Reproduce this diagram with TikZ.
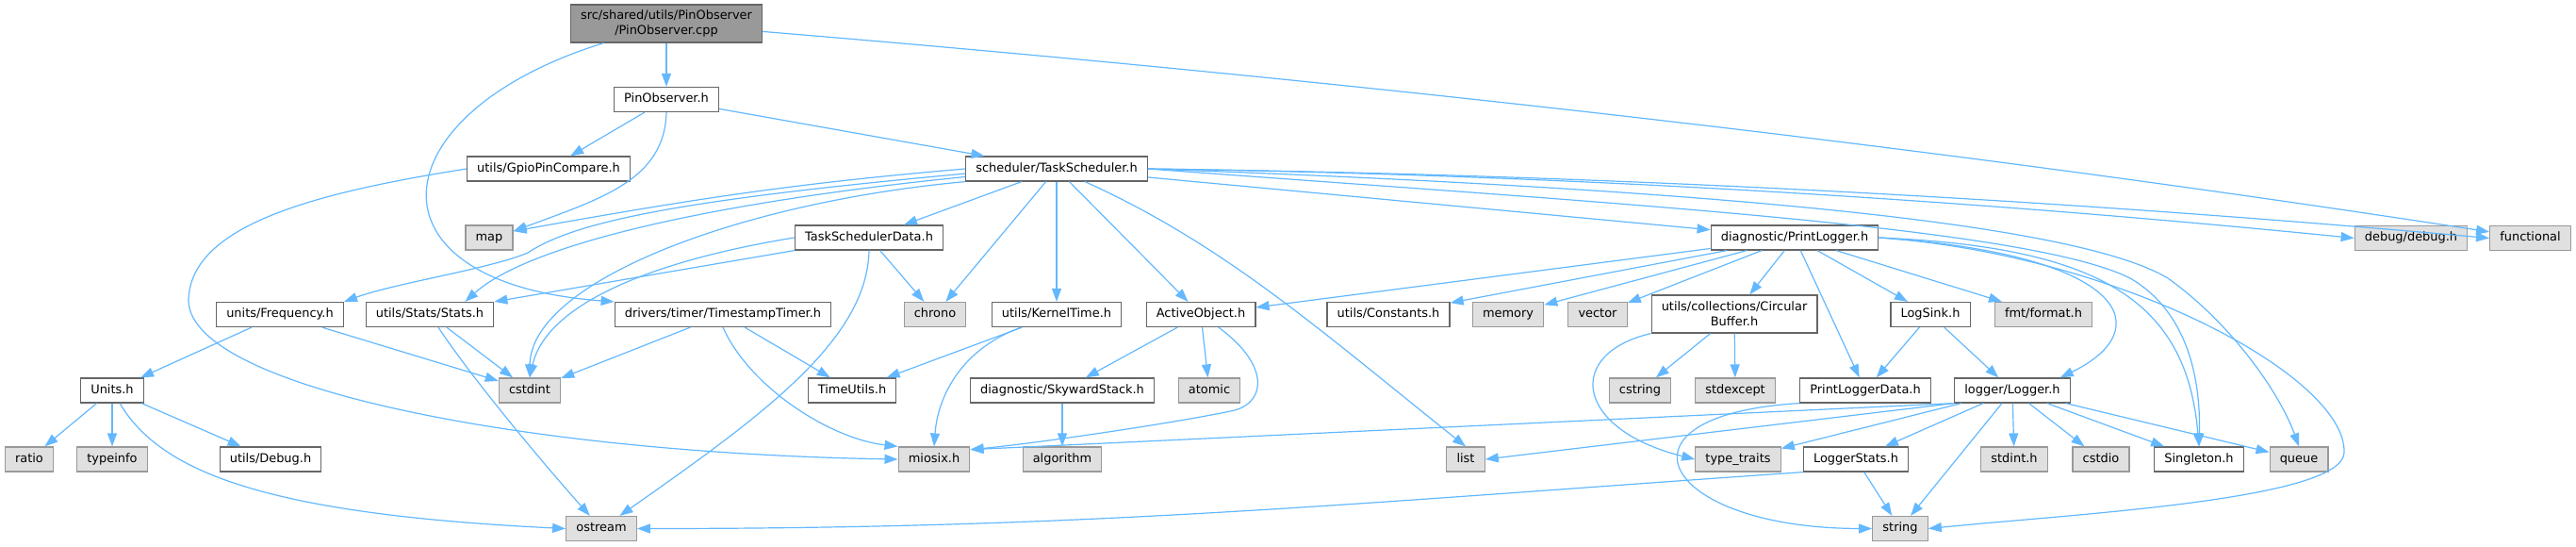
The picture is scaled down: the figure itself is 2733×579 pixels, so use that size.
\documentclass[tikz,border=0pt]{standalone}
\usepackage{fontspec}
\setmainfont{DejaVu Sans}
\usepackage[]{xcolor}
\usetikzlibrary{arrows.meta}

\definecolor{edgeblue}{HTML}{63B8FF}
\definecolor{boxgray}{HTML}{E0E0E0}
\definecolor{sysgray}{HTML}{999999}
\definecolor{linegray}{HTML}{666666}
\definecolor{rootgray}{HTML}{999999}

\begin{document}
\begin{tikzpicture}[
            x=0.75pt, y=-0.75pt,
            base/.style={rectangle, line width=0.9pt, inner xsep=8pt, inner ysep=2pt, font=\fontsize{9.7}{12}\selectfont, align=center},
            header/.style={base, draw=linegray, fill=white, minimum height=19.5pt, text height=7.3pt, text depth=2.3pt},
            sysheader/.style={header, draw=sysgray, fill=boxgray},
            wrapheader/.style={base, draw=linegray, fill=white, minimum height=30pt},
            rootfile/.style={base, draw=linegray, fill=rootgray, minimum height=30pt},
            arrow/.style={-{Triangle[length=10.5pt, width=7.5pt]}, draw=edgeblue, line width=0.9pt}
        ]
            \useasboundingbox (0,0) rectangle (2733,579);

            % rows from top to bottom
            \node[rootfile] (cpp) at (707,25) {src/shared/utils/PinObserver\\/PinObserver.cpp};
            \node[header] (pinh) at (707,105.5) {PinObserver.h};
            \node[header] (gpio) at (582,179) {utils/GpioPinCompare.h};
            \node[header] (sched) at (1121,179) {scheduler/TaskScheduler.h};
            \node[sysheader] (map) at (519,252) {map};
            \node[header] (schedData) at (922,252) {TaskSchedulerData.h};
            \node[header] (plog) at (1904,252) {diagnostic/PrintLogger.h};
            \node[sysheader] (dbg) at (2558,252.5) {debug/debug.h};
            \node[sysheader] (func) at (2684.5,252.5) {functional};

            \node[header] (freq) at (297,333.5) {units/Frequency.h};
            \node[header] (stats) at (456,333.5) {utils/Stats/Stats.h};
            \node[header] (tstamp) at (767,333.5) {drivers/timer/TimestampTimer.h};
            \node[sysheader] (chrono) at (992,333.5) {chrono};
            \node[header] (ktime) at (1121,333.5) {utils/KernelTime.h};
            \node[header] (aobj) at (1274,333.5) {ActiveObject.h};
            \node[header] (consts) at (1473,333.5) {utils/Constants.h};
            \node[sysheader] (memory) at (1600,333.5) {memory};
            \node[sysheader] (vector) at (1695,333.5) {vector};
            \node[wrapheader] (cbuf) at (1840,333) {utils/collections/Circular\\Buffer.h};
            \node[header] (logsink) at (2048,333.5) {LogSink.h};
            \node[sysheader] (fmt) at (2168,333.5) {fmt/format.h};

            \node[header] (units) at (119,414) {Units.h};
            \node[sysheader] (cstdint) at (562,414) {cstdint};
            \node[header] (tutils) at (904,414) {TimeUtils.h};
            \node[header] (sstack) at (1127,414) {diagnostic/SkywardStack.h};
            \node[sysheader] (atomic) at (1283,414) {atomic};
            \node[sysheader] (cstring) at (1740,414) {cstring};
            \node[sysheader] (stdexc) at (1841,414) {stdexcept};
            \node[header] (pldata) at (1979,414) {PrintLoggerData.h};
            \node[header] (logger) at (2135,414) {logger/Logger.h};

            \node[sysheader] (ratio) at (31,487) {ratio};
            \node[sysheader] (typeinfo) at (119,487) {typeinfo};
            \node[header] (udebug) at (287,487) {utils/Debug.h};
            \node[sysheader] (miosix) at (991,487) {miosix.h};
            \node[sysheader] (algo) at (1127,487) {algorithm};
            \node[sysheader] (list) at (1555,487) {list};
            \node[sysheader] (ttraits) at (1844,487) {type\_traits};
            \node[header] (lstats) at (1969,487) {LoggerStats.h};
            \node[sysheader] (stdint) at (2137,487) {stdint.h};
            \node[sysheader] (cstdio) at (2229,487) {cstdio};
            \node[header] (single) at (2333,487) {Singleton.h};
            \node[sysheader] (queue) at (2439,487) {queue};

            \node[sysheader] (ostream) at (638,560.5) {ostream};
            \node[sysheader] (string) at (2016,560.5) {string};

            % includes of the source file
            \draw[arrow] (cpp) -- (pinh);
            \draw[arrow] (cpp) .. controls (1420,84) and (2030,152) .. (func);
            \draw[arrow] (cpp) .. controls (400,120) and (380,300) .. (tstamp.north west);

            \draw[arrow] (pinh) -- (gpio);
            \draw[arrow] (pinh.south) .. controls (705,190) and (640,210) .. (map.15);
            \draw[arrow] (pinh) -- (sched);

            \draw[arrow] (gpio.west) .. controls (330,205) and (200,240) .. (200,320) .. controls (205,410) and (550,480) .. (miosix.west);

            % scheduler/TaskScheduler.h
            \draw[arrow] (sched.west) .. controls (836,195) and (731,212) .. (map.15);
            \draw[arrow] (sched.183) .. controls (720,212) and (610,235) .. (560,268) .. controls (520,285) and (420,300) .. (freq.north east);
            \draw[arrow] (sched.185) .. controls (750,215) and (560,260) .. (stats.20);
            \draw[arrow] (sched.south west) .. controls (780,215) and (563,300) .. (cstdint.north);
            \draw[arrow] (sched) -- (schedData);
            \draw[arrow] (sched) -- (chrono);
            \draw[arrow] (sched) -- (ktime);
            \draw[arrow] (sched) -- (aobj);
            \draw[arrow] (sched) .. controls (1300,260) and (1400,350) .. (list.north);
            \draw[arrow] (sched) -- (plog);
            \draw[arrow] (sched.east) .. controls (1644,185) and (2072,210) .. (dbg.west);
            \draw[arrow] (sched.east) .. controls (1692,185) and (2166,210) .. (func.west);
            \draw[arrow] (sched.east) .. controls (1700,215) and (2150,240) .. (2260,295) .. controls (2320,330) and (2335,400) .. (single.north);
            \draw[arrow] (sched.east) .. controls (1800,200) and (2200,235) .. (2300,295) .. controls (2370,345) and (2420,420) .. (queue.north);

            \draw[arrow] (schedData.south west) -- (stats.north east);
            \draw[arrow] (schedData.west) .. controls (700,275) and (580,320) .. (cstdint.north);
            \draw[arrow] (schedData) -- (chrono);
            \draw[arrow] (schedData.south) .. controls (920,360) and (810,440) .. (ostream.35);

            % diagnostic/PrintLogger.h
            \draw[arrow] (plog) -- (aobj);
            \draw[arrow] (plog) -- (consts);
            \draw[arrow] (plog) -- (memory);
            \draw[arrow] (plog) -- (vector);
            \draw[arrow] (plog) -- (cbuf);
            \draw[arrow] (plog) -- (pldata);
            \draw[arrow] (plog) -- (logsink);
            \draw[arrow] (plog) -- (fmt);
            \draw[arrow] (plog.east) .. controls (2260,270) and (2290,350) .. (logger.15);
            \draw[arrow] (plog.east) .. controls (2230,262) and (2320,320) .. (single.north);
            \draw[arrow] (plog.east) .. controls (2250,270) and (2490,400) .. (2487,480) .. controls (2485,530) and (2200,545) .. (string.east);

            \draw[arrow] (freq) -- (units);
            \draw[arrow] (freq) -- (cstdint);
            \draw[arrow] (stats) -- (cstdint);
            \draw[arrow] (stats) .. controls (500,400) and (575,490) .. (ostream);
            \draw[arrow] (tstamp) -- (cstdint);
            \draw[arrow] (tstamp) -- (tutils);
            \draw[arrow] (tstamp.south) .. controls (795,410) and (880,465) .. (miosix.north west);
            \draw[arrow] (ktime) -- (tutils);
            \draw[arrow] (ktime) .. controls (1020,370) and (995,420) .. (miosix.north);
            \draw[arrow] (aobj) -- (sstack);
            \draw[arrow] (aobj) -- (atomic);
            \draw[arrow] (aobj) .. controls (1345,385) and (1345,425) .. (1310,435) .. controls (1250,448) and (1100,470) .. (miosix.15);
            \draw[arrow] (sstack) -- (algo);

            \draw[arrow] (cbuf) -- (cstring);
            \draw[arrow] (cbuf) -- (stdexc);
            \draw[arrow] (cbuf.south west) .. controls (1660,375) and (1670,455) .. (ttraits.west);
            \draw[arrow] (logsink) -- (pldata);
            \draw[arrow] (logsink) -- (logger);
            \draw[arrow] (pldata.south west) .. controls (1700,440) and (1760,560) .. (string.west);

            % logger/Logger.h
            \draw[arrow] (logger.south west) -- (miosix.15);
            \draw[arrow] (logger.south west) -- (list.east);
            \draw[arrow] (logger) -- (ttraits);
            \draw[arrow] (logger) -- (lstats);
            \draw[arrow] (logger) -- (string);
            \draw[arrow] (logger) -- (stdint);
            \draw[arrow] (logger) -- (cstdio);
            \draw[arrow] (logger) -- (single);
            \draw[arrow] (logger) -- (queue);
            \draw[arrow] (lstats) -- (string);
            \draw[arrow] (lstats.south west) .. controls (1430,534) and (1161,560.5) .. (ostream.east);

            \draw[arrow] (units) -- (ratio);
            \draw[arrow] (units) -- (typeinfo);
            \draw[arrow] (units) -- (udebug);
            \draw[arrow] (units) .. controls (170,500) and (280,545) .. (ostream.west);
        \end{tikzpicture}
\end{document}
